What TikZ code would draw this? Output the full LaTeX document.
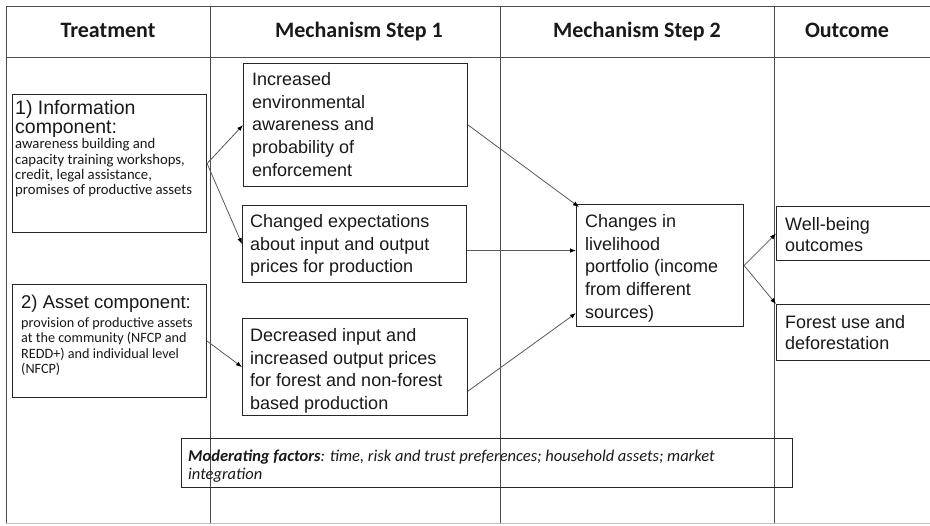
\documentclass[tikz,border=0pt]{standalone}
\usepackage{fontspec}
\setmainfont{Liberation Sans}
\newfontfamily\calib{Carlito}
\usetikzlibrary{arrows.meta,calc}
\begin{document}
\begin{tikzpicture}[x=1pt,y=-1pt,
  tline/.style={draw=black!70, line width=0.9pt},
  bx/.style={draw=black!85, line width=1.1pt, rectangle, inner sep=0pt, anchor=north west},
  hdr/.style={font=\calib\bfseries\fontsize{22}{26}\selectfont, inner sep=0pt, anchor=base, text=black!90},
  btxt/.style={font=\fontsize{18}{22.7}\selectfont, align=left, anchor=base west, inner sep=0pt, text=black!90},
  ttl/.style={font=\fontsize{18.5}{17}\selectfont, align=left, anchor=base west, inner sep=0pt, text=black!90},
  stxt/.style={font=\calib\fontsize{14.7}{15.4}\selectfont, align=left, anchor=base west, inner sep=0pt, text=black!90},
  arr/.style={draw=black!65, line width=0.8pt, -{Latex[length=6pt,width=4.5pt,black]}}
]
\clip (0,0) rectangle (930,526);
\fill[white] (0,0) rectangle (930,526);
% table
\draw[tline] (930,6) -- (6,6) -- (6,523);
\draw[draw=black!25, line width=0.8pt] (6,523) -- (930,523);
\draw[tline] (6,57) -- (930,57);
\draw[tline] (210,6) -- (210,523);
\draw[tline] (500,6) -- (500,523);
\draw[tline] (774,6) -- (774,523);
% headers
\node[hdr] (h1) at (108,38) {Treatment};
\node[hdr] (h2) at (359,38) {Mechanism Step 1};
\node[hdr] (h3) at (637,38) {Mechanism Step 2};
\node[hdr] (h4) at (847,38) {Outcome};
% boxes
\node[bx, minimum width=194pt, minimum height=138pt] (info) at (12,94) {};
\node[bx, minimum width=194pt, minimum height=113pt] (asset) at (12,284) {};
\node[bx, minimum width=224pt, minimum height=123pt] (incr) at (243,63) {};
\node[bx, minimum width=224pt, minimum height=77pt] (chg) at (242,205) {};
\node[bx, minimum width=225pt, minimum height=97pt] (dec) at (242,318) {};
\node[bx, minimum width=167pt, minimum height=122pt] (chs) at (576,204) {};
\node[bx, minimum width=170pt, minimum height=54pt] (wb) at (776,206) {};
\node[bx, minimum width=170pt, minimum height=56pt] (fo) at (776,304) {};
\node[bx, minimum width=611pt, minimum height=49pt] (mod) at (181,438) {};
% texts (anchored at the baseline of their last line)
\node[ttl, font=\fontsize{19.5}{19}\selectfont] (infoT) at (15,134) {1) Information\\component:};
\node[stxt] (infoS) at (15,195) {awareness building and\\capacity training workshops,\\credit, legal assistance,\\promises of productive assets};
\node[ttl] (assetT) at (21,308.6) {2) Asset component:};
\node[stxt, font=\calib\fontsize{14.2}{15.4}\selectfont] (assetS) at (21,373.5) {provision of productive assets\\at the community (NFCP and\\REDD+) and individual level\\(NFCP)};
\node[btxt] (incrT) at (252,176.3) {Increased\\environmental\\awareness and\\probability of\\enforcement};
\node[btxt] (chgT) at (250,272.9) {Changed expectations\\about input and output\\prices for production};
\node[btxt] (decT) at (250,409.6) {Decreased input and\\increased output prices\\for forest and non-forest\\based production};
\node[btxt] (chsT) at (585,318.3) {Changes in\\livelihood\\portfolio (income\\from different\\sources)};
\node[btxt, font=\fontsize{18}{21.5}\selectfont] (wbT) at (785,252) {Well-being\\outcomes};
\node[btxt, font=\fontsize{18}{21.5}\selectfont] (foT) at (785,350) {Forest use and\\deforestation};
\node[stxt, font=\calib\itshape\fontsize{16.5}{18}\selectfont] (modT) at (188,479.5) {\textbf{Moderating factors}: time, risk and trust preferences; household assets; market\\integration};
% connectors
\coordinate (chgOut) at ($(chg.east)+(0,6.5)$);
\coordinate (chsIn) at (chs.west |- chgOut);
\coordinate (decOut) at ($(dec.east)+(0,24)$);
\coordinate (chsIn2) at ($(chs.south west)+(0,-14)$);
\draw[arr] (info.east) -- (incr.west);
\draw[arr] (info.east) -- (chg.west);
\draw[arr] (asset.east) -- (dec.west);
\draw[arr] (incr.east) -- ($(chs.north west)+(3,3)$);
\draw[arr] (chgOut) -- (chsIn);
\draw[arr] (decOut) -- (chsIn2);
\draw[arr] (chs.east) -- (wb.west);
\draw[arr] (chs.east) -- (fo.north west);
\end{tikzpicture}
\end{document}
